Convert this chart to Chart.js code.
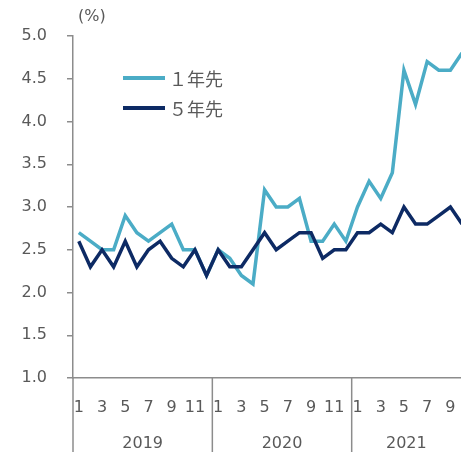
<!DOCTYPE html>
<html>
<head>
<meta charset="utf-8">
<script src="https://cdn.jsdelivr.net/npm/chart.js@4.4.1/dist/chart.umd.min.js"></script>
<style>
  html, body { margin: 0; padding: 0; background: #fff; overflow: hidden; }
  canvas { display: block; }
</style>
</head>
<body>
<canvas id="expectChart" width="474" height="452"></canvas>
<script>
// 2019/1 - 2021/10, monthly
const yearLabels = ["2019", "2020", "2021"];
const monthLabels = [
  "1", "2", "3", "4", "5", "6", "7", "8", "9", "10", "11", "12",
  "1", "2", "3", "4", "5", "6", "7", "8", "9", "10", "11", "12",
  "1", "2", "3", "4", "5", "6", "7", "8", "9", "10",
];
const oneYearAhead = [
  2.7, 2.6, 2.5, 2.5, 2.9, 2.7, 2.6, 2.7, 2.8, 2.5, 2.5, 2.2,
  2.5, 2.4, 2.2, 2.1, 3.2, 3.0, 3.0, 3.1, 2.6, 2.6, 2.8, 2.6,
  3.0, 3.3, 3.1, 3.4, 4.6, 4.2, 4.7, 4.6, 4.6, 4.8,
];
const fiveYearAhead = [
  2.6, 2.3, 2.5, 2.3, 2.6, 2.3, 2.5, 2.6, 2.4, 2.3, 2.5, 2.2,
  2.5, 2.3, 2.3, 2.5, 2.7, 2.5, 2.6, 2.7, 2.7, 2.4, 2.5, 2.5,
  2.7, 2.7, 2.8, 2.7, 3.0, 2.8, 2.8, 2.9, 3.0, 2.8,
];

const textColor = "#595959";
const axisColor = "#8c8c8c";
const fontFamily = "'DejaVu Sans', sans-serif";

const categoryKeys = monthLabels.map((m, i) => `${i}-${m}`);

// years under the months, separators, (%) and legend
const extrasPlugin = {
  id: "extras",
  afterDraw(chart) {
    const ctx = chart.ctx;
    const x = chart.scales.x;
    const area = chart.chartArea;
    const half = (x.getPixelForTick(1) - x.getPixelForTick(0)) / 2;

    ctx.save();
    ctx.strokeStyle = axisColor;
    ctx.lineWidth = 1.5;
    ctx.fillStyle = textColor;
    ctx.font = `16px ${fontFamily}`;
    ctx.textAlign = "center";
    ctx.textBaseline = "middle";

    let start = 0;
    yearLabels.forEach(year => {
      const count = monthLabels.slice(start).findIndex((m, k) => k > 0 && m === "1");
      const len = count === -1 ? monthLabels.length - start : count;
      const left = x.getPixelForTick(start) - half;
      const right = Math.min(x.getPixelForTick(start + len - 1) + half, 461);
      ctx.beginPath();
      ctx.moveTo(left, area.bottom);
      ctx.lineTo(left, chart.height);
      ctx.stroke();
      ctx.fillText(year, (left + right) / 2, 444);
      start += len;
    });

    ctx.textAlign = "left";
    ctx.fillText("(%)", area.left + 5, 17);

    ctx.font = `18px 'Noto Sans CJK JP', ${fontFamily}`;
    chart.data.datasets.forEach((ds, i) => {
      const y = 78 + i * 30;
      ctx.strokeStyle = ds.borderColor;
      ctx.lineWidth = 4;
      ctx.beginPath();
      ctx.moveTo(123, y);
      ctx.lineTo(165, y);
      ctx.stroke();
      ctx.fillStyle = textColor;
      ctx.fillText(ds.label, 169, y + 1);
    });
    ctx.restore();
  },
};

new Chart(document.getElementById("expectChart"), {
  type: "line",
  data: {
    labels: categoryKeys,
    datasets: [
      {
        label: "１年先",
        data: oneYearAhead,
        borderColor: "#4bacc6",
        borderWidth: 3.5,
        pointRadius: 0,
        tension: 0,
        order: 2,
      },
      {
        label: "５年先",
        data: fiveYearAhead,
        borderColor: "#0d2a64",
        borderWidth: 3.5,
        pointRadius: 0,
        tension: 0,
        order: 1,
      },
    ],
  },
  options: {
    responsive: false,
    animation: false,
    layout: {
      padding: { top: 36, left: 0, right: 0, bottom: 0 },
    },
    plugins: {
      legend: { display: false },
      tooltip: { enabled: false },
    },
    scales: {
      x: {
        type: "category",
        offset: true,
        grid: { display: false },
        border: { color: axisColor, width: 1.5 },
        ticks: {
          autoSkip: false,
          maxRotation: 0,
          padding: 12,
          color: textColor,
          font: { family: fontFamily, size: 16 },
          callback: (value, index) => {
            const m = monthLabels[index];
            return Number(m) % 2 === 1 ? m : "";
          },
        },
        afterFit: scale => {
          scale.height = 74;
        },
      },
      y: {
        min: 1,
        max: 5,
        grid: {
          drawOnChartArea: false,
          drawTicks: true,
          tickLength: 6,
          color: axisColor,
          lineWidth: 1.5,
        },
        border: { color: axisColor, width: 1.5 },
        ticks: {
          stepSize: 0.5,
          padding: 20,
          color: textColor,
          font: { family: fontFamily, size: 16 },
          callback: value => value.toFixed(1),
        },
        afterFit: scale => {
          scale.width = 73;
        },
      },
    },
  },
  plugins: [extrasPlugin],
});
</script>
</body>
</html>
